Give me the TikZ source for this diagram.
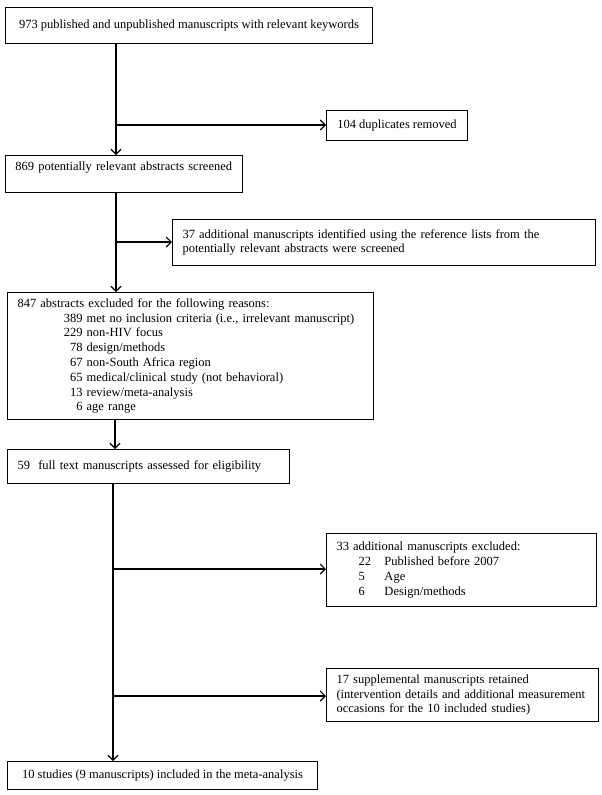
\documentclass[tikz,border=0pt]{standalone}
\usepackage{fontspec}
\setmainfont{Liberation Serif}
\usetikzlibrary{arrows.meta}
\begin{document}
\begin{tikzpicture}[x=1pt,y=-1pt,
  box/.style={draw, line width=1pt, inner xsep=10pt, inner ysep=2pt, anchor=north west,
    align=left, font=\fontsize{12.5}{14.8}\selectfont},
  cbox/.style={box, align=center, inner xsep=0pt},
  arr/.style={line width=1.1pt, -{Straight Barb[length=5pt,width=10pt,line width=1.1pt]}},
  trunk/.style={line width=1.1pt}]
\useasboundingbox (0,0) rectangle (602,795);
\fill[white] (0,0) rectangle (602,795);
\coordinate (tA) at (116,0);
\coordinate (tB) at (113,0);
\coordinate (tC) at (115,0);

\node[cbox, minimum width=367pt, minimum height=36pt] (n973) at (5,7)
  {973 published and unpublished manuscripts with relevant keywords};
\node[cbox, minimum width=141pt, minimum height=30pt] (ndup) at (326,110)
  {104 duplicates removed};
\node[box, text width=217pt, inner ysep=0pt, text height=15pt, text depth=22pt] (n869) at (5,155)
  {869 potentially relevant abstracts screened};
\node[box, text width=403pt, minimum height=46pt] (n37) at (172,219)
  {37 additional manuscripts identified using the reference lists from the\\
   potentially relevant abstracts were screened};
\node[box, text width=346pt, minimum height=127pt] (n847) at (7,292)
  {847 abstracts excluded for the following reasons:\\
   \makebox[65pt][r]{389} met no inclusion criteria (i.e., irrelevant manuscript)\\
   \makebox[65pt][r]{229} non-HIV focus\\
   \makebox[65pt][r]{78} design/methods\\
   \makebox[65pt][r]{67} non-South Africa region\\
   \makebox[65pt][r]{65} medical/clinical study (not behavioral)\\
   \makebox[65pt][r]{13} review/meta-analysis\\
   \makebox[65pt][r]{6} age range};
\node[box, text width=262pt, minimum height=34pt] (n59) at (7,449)
  {59\ \ full text manuscripts assessed for eligibility};
\node[box, text width=250pt, minimum height=73pt] (n33) at (326,533)
  {33 additional manuscripts excluded:\\
   \hspace*{22pt}\makebox[26pt][l]{22}Published before 2007\\
   \hspace*{22pt}\makebox[26pt][l]{5}Age\\
   \hspace*{22pt}\makebox[26pt][l]{6}Design/methods};
\node[box, text width=252pt, minimum height=53pt] (n17) at (326,668)
  {17 supplemental manuscripts retained\\
   (intervention details and additional measurement\\
   occasions for the 10 included studies)};
\node[cbox, minimum width=310pt, minimum height=28pt] (n10) at (7,761)
  {10 studies (9 manuscripts) included in the meta-analysis};

\coordinate (yDup) at (0,125);
\coordinate (y37) at (0,242);
\coordinate (y33) at (0,569);
\coordinate (y17) at (0,696);

\draw[arr] (n973.south -| tA) -- (n869.north -| tA);
\draw[arr] (tA |- yDup) -- (ndup.west |- yDup);
\draw[arr] (n869.south -| tA) -- (n847.north -| tA);
\draw[arr] (tA |- y37) -- (n37.west |- y37);
\draw[arr] (n847.south -| tC) -- (n59.north -| tC);
\draw[arr] (n59.south -| tB) -- (n10.north -| tB);
\draw[arr] (tB |- y33) -- (n33.west |- y33);
\draw[arr] (tB |- y17) -- (n17.west |- y17);
\end{tikzpicture}
\end{document}
